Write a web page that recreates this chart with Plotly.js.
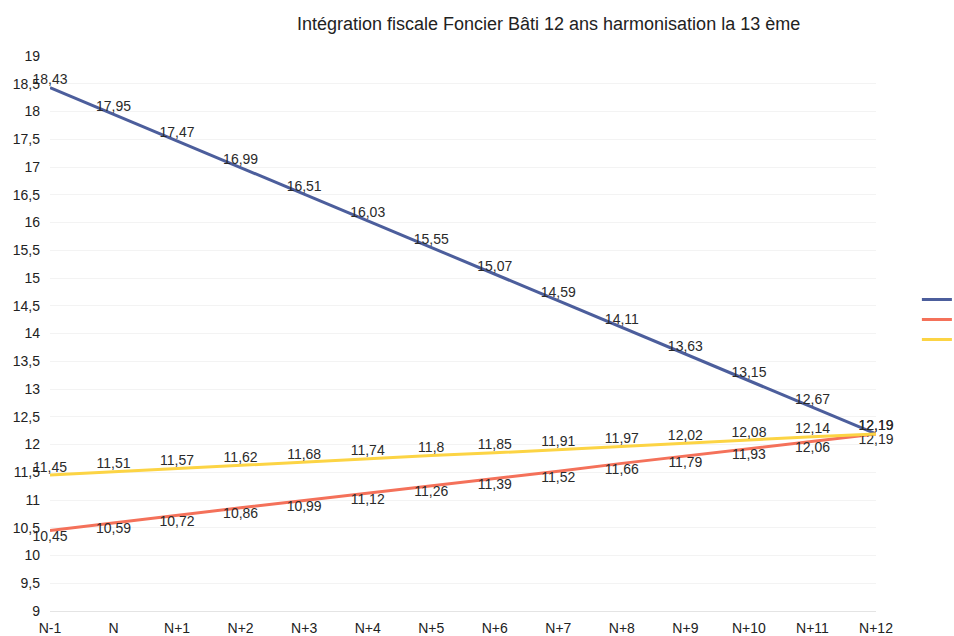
<!DOCTYPE html>
<html>
<head>
<meta charset="utf-8">
<script src="https://cdn.plot.ly/plotly-3.0.1.min.js"></script>
<style>html,body{margin:0;padding:0;background:#fff;}#chart{width:954px;height:636px;}</style>
</head>
<body>
<div id="chart"></div>
<script>
var categories = ["N-1","N","N+1","N+2","N+3","N+4","N+5","N+6","N+7","N+8","N+9","N+10","N+11","N+12"];
var serieBleue = [18.43,17.95,17.47,16.99,16.51,16.03,15.55,15.07,14.59,14.11,13.63,13.15,12.67,12.19];
var serieJaune = [11.45,11.51,11.57,11.62,11.68,11.74,11.8,11.85,11.91,11.97,12.02,12.08,12.14,12.19];
var serieOrange = [10.45,10.59,10.72,10.86,10.99,11.12,11.26,11.39,11.52,11.66,11.79,11.93,12.06,12.19];
var yTickVals = [9,9.5,10,10.5,11,11.5,12,12.5,13,13.5,14,14.5,15,15.5,16,16.5,17,17.5,18,18.5,19];

var idx = categories.map(function(c,i){return i;});
var font = {family:"Liberation Sans, Arial, sans-serif", size:14, color:"#222"};

function tr(name, y, color, pos){
  return {
    type:"scatter", mode:"lines+text", name:name, x:idx, y:y,
    line:{color:color, width:3},
    texttemplate:"%{y:.2~f}", textposition:pos,
    textfont:{family:font.family, size:14, color:"#2a2a2a"},
    cliponaxis:false, hoverinfo:"skip"
  };
}
var data = [
  tr("Série 1", serieBleue, "#4c5e9c", "top center"),
  tr("Série 2", serieOrange, "#f4715a", "bottom center"),
  tr("Série 3", serieJaune, "#fcd444", "top center")
];

var layout = {
  width:954, height:636,
  margin:{l:50, r:78, t:56, b:25, autoexpand:false},
  paper_bgcolor:"#fff", plot_bgcolor:"#fff",
  separators:", ",
  font:font,
  title:{text:"Intégration fiscale Foncier Bâti 12 ans harmonisation la 13 ème",
         font:{family:font.family, size:18, color:"#222"},
         x:0.575, xref:"container", xanchor:"center", y:0.962, yanchor:"middle"},
  xaxis:{range:[0,13], tickvals:idx, ticktext:categories, showgrid:false, zeroline:false,
         showline:true, linecolor:"#e4e4e4", linewidth:1, ticks:"", ticklabelstandoff:4,
         tickfont:font, fixedrange:true, automargin:false},
  yaxis:{range:[9,19], tickvals:yTickVals, ticktext:yTickVals.map(function(v){return String(v).replace(".",",");}),
         showgrid:true, gridcolor:"#f3f3f3", zeroline:false, showline:false, ticks:"",
         ticklabelstandoff:9, tickfont:font, fixedrange:true, automargin:false},
  showlegend:true,
  legend:{x:1.0495, xanchor:"left", y:0.525, yanchor:"middle", font:{family:font.family, size:13, color:"#222"},
          bgcolor:"rgba(0,0,0,0)", tracegroupgap:0, itemwidth:30}
};
Plotly.newPlot("chart", data, layout, {displayModeBar:false, staticPlot:true});
</script>
</body>
</html>
